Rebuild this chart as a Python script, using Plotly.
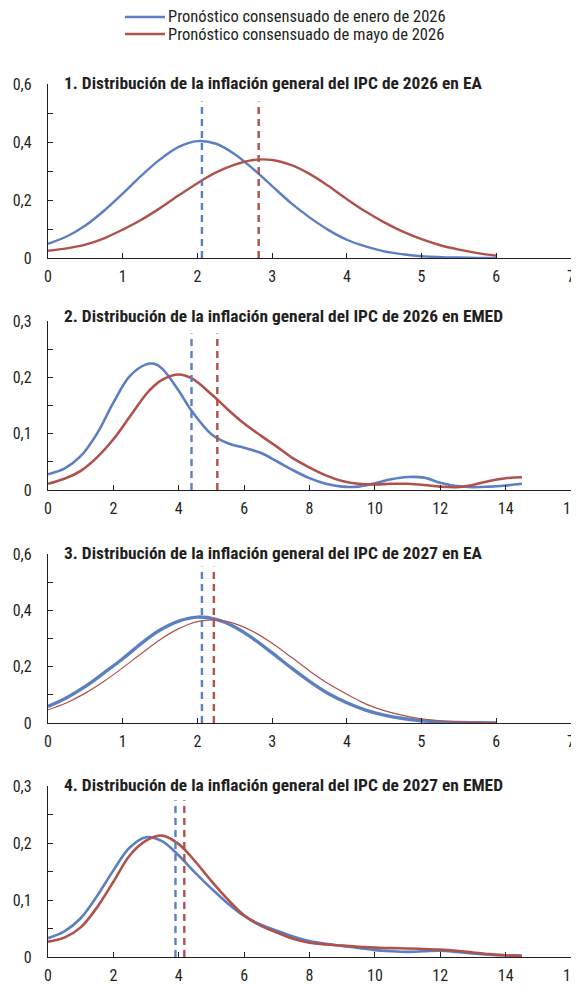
import plotly.graph_objects as go

# ---------------- data ----------------
legend_names = ["Pronóstico consensuado de enero de 2026", "Pronóstico consensuado de mayo de 2026"]
titles = [
    "1. Distribución de la inflación general del IPC de 2026 en EA",
    "2. Distribución de la inflación general del IPC de 2026 en EMED",
    "3. Distribución de la inflación general del IPC de 2027 en EA",
    "4. Distribución de la inflación general del IPC de 2027 en EMED",
]

# Panel 1 (EA 2026)
x_p1 = [0, 0.25, 0.5, 0.75, 1.0, 1.25, 1.5, 1.75, 2.0, 2.25, 2.5, 2.75, 3.0, 3.25, 3.5, 3.75,
        4.0, 4.25, 4.5, 4.75, 5.0, 5.25, 5.5, 5.75, 6.0]
jan_p1 = [0.049, 0.074, 0.112, 0.163, 0.222, 0.284, 0.340, 0.383, 0.403, 0.394, 0.358, 0.306,
          0.248, 0.190, 0.140, 0.097, 0.063, 0.040, 0.023, 0.013, 0.006, 0.003, 0.0015, 0.0006, 0.0]
may_p1 = [0.025, 0.033, 0.046, 0.068, 0.098, 0.132, 0.172, 0.216, 0.258, 0.295, 0.322, 0.338,
          0.338, 0.321, 0.290, 0.249, 0.203, 0.160, 0.123, 0.091, 0.065, 0.044, 0.029, 0.017, 0.008]
vline_p1 = [2.06, 2.82]

# Panel 2 (EMED 2026)
x_p2 = [0, 0.5, 1.0, 1.5, 2.0, 2.5, 3.0, 3.25, 3.5, 4.0, 4.4, 5.0, 5.5, 6.0, 6.5, 7.0, 7.5,
        8.0, 8.5, 9.0, 9.5, 10.0, 10.5, 11.0, 11.5, 12.0, 12.5, 13.0, 13.5, 14.0, 14.5]
jan_p2 = [0.028, 0.038, 0.060, 0.100, 0.155, 0.202, 0.223, 0.224, 0.215, 0.176, 0.140, 0.099,
          0.083, 0.075, 0.066, 0.051, 0.035, 0.021, 0.011, 0.006, 0.006, 0.012, 0.019, 0.023,
          0.022, 0.013, 0.007, 0.005, 0.006, 0.008, 0.011]
may_p2 = [0.011, 0.020, 0.034, 0.058, 0.090, 0.130, 0.170, 0.185, 0.196, 0.205, 0.198, 0.170,
          0.143, 0.118, 0.097, 0.077, 0.056, 0.040, 0.026, 0.016, 0.011, 0.010, 0.011, 0.011,
          0.009, 0.006, 0.005, 0.009, 0.016, 0.021, 0.0225]
vline_p2 = [4.39, 5.18]

# Panel 3 (EA 2027)
x_p3 = [0, 0.25, 0.5, 0.75, 1.0, 1.25, 1.5, 1.75, 2.0, 2.25, 2.5, 2.75, 3.0, 3.25, 3.5, 3.75,
        4.0, 4.25, 4.5, 4.75, 5.0, 5.25, 5.5, 5.75, 6.0]
jan_p3 = [0.059, 0.090, 0.130, 0.178, 0.228, 0.283, 0.330, 0.362, 0.376, 0.368, 0.341, 0.299,
          0.249, 0.197, 0.148, 0.105, 0.072, 0.046, 0.028, 0.016, 0.008, 0.004, 0.002, 0.001, 0.0]
may_p3 = [0.047, 0.072, 0.106, 0.148, 0.196, 0.247, 0.296, 0.335, 0.360, 0.366, 0.353, 0.324,
          0.283, 0.235, 0.185, 0.140, 0.102, 0.068, 0.044, 0.027, 0.015, 0.008, 0.004, 0.002, 0.001]
vline_p3 = [2.06, 2.22]

# Panel 4 (EMED 2027)
x_p4 = [0, 0.5, 1.0, 1.5, 2.0, 2.5, 3.0, 3.5, 4.0, 4.5, 5.0, 5.5, 6.0, 6.5, 7.0, 7.5, 8.0,
        8.5, 9.0, 9.5, 10.0, 10.5, 11.0, 11.5, 12.0, 12.5, 13.0, 13.5, 14.0, 14.5]
jan_p4 = [0.033, 0.045, 0.068, 0.107, 0.152, 0.192, 0.210, 0.203, 0.178, 0.148, 0.120, 0.094,
          0.072, 0.057, 0.046, 0.036, 0.028, 0.023, 0.0195, 0.016, 0.012, 0.010, 0.009, 0.010,
          0.011, 0.009, 0.006, 0.004, 0.003, 0.002]
may_p4 = [0.027, 0.034, 0.052, 0.087, 0.132, 0.178, 0.204, 0.213, 0.198, 0.168, 0.133, 0.101,
          0.073, 0.055, 0.043, 0.032, 0.025, 0.022, 0.020, 0.018, 0.0165, 0.0155, 0.015, 0.014,
          0.013, 0.011, 0.008, 0.005, 0.003, 0.002]
vline_p4 = [3.90, 4.17]

vline_tops = [0.54, 0.278, 0.555, 0.275]
x_ranges = [[0, 7], [0, 16], [0, 7], [0, 16]]
x_dticks = [1, 2, 1, 2]
y_ranges = [[0, 0.6], [0, 0.3], [0, 0.6], [0, 0.3]]
y_dticks = [0.2, 0.1, 0.2, 0.1]
y_minor = [0.1, 0.05, 0.1, 0.05]

# ---------------- styling ----------------
OFF = 8                      # page body margin of the html page
W, H = 579 - OFF, 986 - OFF  # figure size so it fits the window
BLUE = "#5B7FC1"
RED = "#B0514B"
INK = "#231F20"
FONT = "Liberation Sans Narrow, Roboto Condensed, DejaVu Sans Condensed, sans-serif"

# plot areas in window pixels: (left, right, top(y of max), bottom(y of 0))
boxes = [(48, 571, 84, 258), (48, 571, 321, 490), (48, 571, 554, 723), (48, 571, 786, 957)]
title_y = [83, 316, 553, 785]
title_x = 62
line_w = [(2.4, 2.4), (2.6, 2.6), (3.4, 1.2), (2.6, 2.6)]
legend_rows_y = [17, 34]
legend_key_x = (125, 165)
legend_text_x = 167


def px(xp):
    return (xp - OFF) / W


def py(yp):
    return 1 - (yp - OFF) / H


panels = [
    (x_p1, jan_p1, may_p1, vline_p1),
    (x_p2, jan_p2, may_p2, vline_p2),
    (x_p3, jan_p3, may_p3, vline_p3),
    (x_p4, jan_p4, may_p4, vline_p4),
]

fig = go.Figure()
layout = dict(
    width=W, height=H, autosize=False,
    margin=dict(l=0, r=0, t=0, b=0, pad=0),
    paper_bgcolor="white", plot_bgcolor="white",
    separators=",.",
    font=dict(family=FONT, color=INK, size=16),
    showlegend=False,
    annotations=[],
    shapes=[],
)

# legend (keys + labels)
for name, col, yy in zip(legend_names, [BLUE, RED], legend_rows_y):
    layout["shapes"].append(dict(type="line", xref="paper", yref="paper",
                                 x0=px(legend_key_x[0]), x1=px(legend_key_x[1]), y0=py(yy), y1=py(yy),
                                 line=dict(color=col, width=2.6)))
    layout["annotations"].append(dict(text=name, x=px(legend_text_x), y=py(yy), xref="paper", yref="paper",
                                      xanchor="left", yanchor="middle", showarrow=False, borderpad=0,
                                      font=dict(family=FONT, size=16.5, color=INK)))

for i, (xs, jan, may, vl) in enumerate(panels):
    k = "" if i == 0 else str(i + 1)
    xa, ya = "x" + k, "y" + k
    l, r, t, b = boxes[i]
    wj, wm = line_w[i]
    fig.add_trace(go.Scatter(x=xs, y=jan, mode="lines", line=dict(color=BLUE, width=wj, shape="spline", smoothing=1.0),
                             name=legend_names[0], xaxis=xa, yaxis=ya, hoverinfo="skip"))
    fig.add_trace(go.Scatter(x=xs, y=may, mode="lines", line=dict(color=RED, width=wm, shape="spline", smoothing=1.0),
                             name=legend_names[1], xaxis=xa, yaxis=ya, hoverinfo="skip"))
    for v, c in zip(vl, [BLUE, RED]):
        fig.add_trace(go.Scatter(x=[v, v], y=[0, vline_tops[i]], mode="lines",
                                 line=dict(color=c, width=2.4, dash="7px,5px"),
                                 xaxis=xa, yaxis=ya, hoverinfo="skip"))
    layout["xaxis" + k] = dict(
        domain=[px(l), px(r)], anchor=ya, range=x_ranges[i], dtick=x_dticks[i], tick0=0,
        automargin=False,
        showgrid=False, zeroline=False, showline=True, linecolor=INK, linewidth=1.3,
        ticks="inside", ticklen=5, tickwidth=1.2, tickcolor=INK,
        tickfont=dict(family=FONT, size=16, color=INK), ticklabelstandoff=4, fixedrange=True)
    layout["yaxis" + k] = dict(
        domain=[py(b), py(t)], anchor=xa, range=y_ranges[i], dtick=y_dticks[i], tick0=0,
        automargin=False,
        showgrid=False, zeroline=False, showline=True, linecolor=INK, linewidth=1.3,
        ticks="inside", ticklen=5, tickwidth=1.2, tickcolor=INK,
        minor=dict(ticks="inside", dtick=y_minor[i], ticklen=5, tickwidth=1.2, tickcolor=INK, showgrid=False),
        tickfont=dict(family=FONT, size=16, color=INK), ticklabelstandoff=12, fixedrange=True)
    layout["annotations"].append(dict(
        text="<b>" + titles[i] + "</b>", x=px(title_x), y=py(title_y[i]), xref="paper", yref="paper",
        xanchor="left", yanchor="middle", showarrow=False,
        font=dict(family=FONT, size=17.4, color=INK)))

fig.update_layout(**layout)
fig.write_html("out.html")
